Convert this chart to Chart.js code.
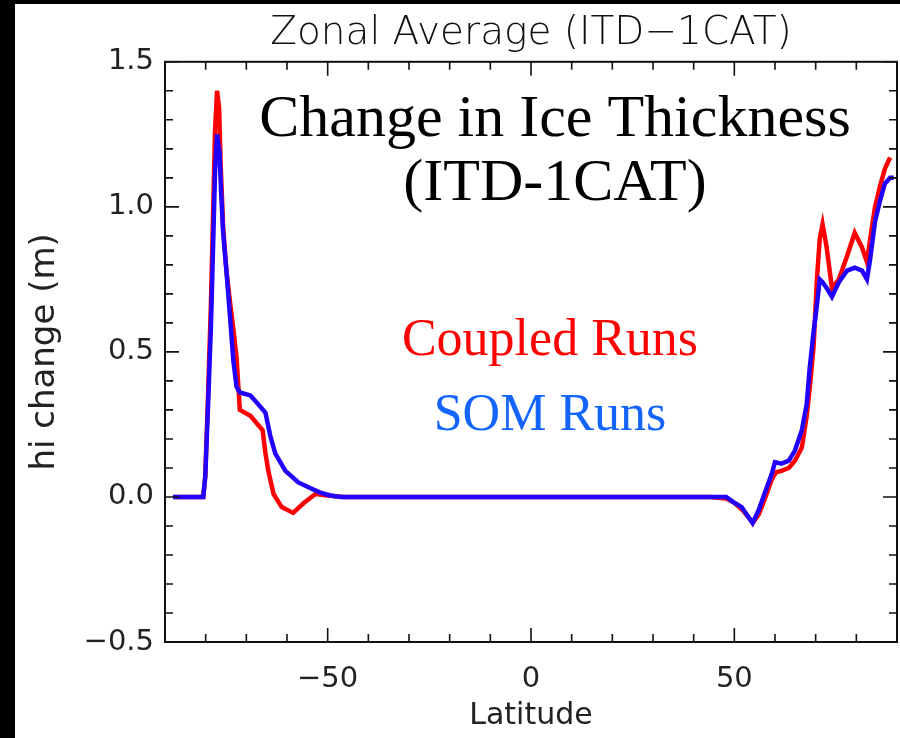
<!DOCTYPE html>
<html>
<head>
<meta charset="utf-8">
<script src="https://cdn.jsdelivr.net/npm/chart.js@4.4.1/dist/chart.umd.min.js"></script>
<style>
  html, body { margin: 0; padding: 0; background: #000; }
  #wrap { position: absolute; left: 15px; top: 4px; width: 885px; height: 734px; background: #fff; }
</style>
</head>
<body>
<div id="wrap"><canvas id="zonal"></canvas></div>
<script>
/*  Data  */
const coupledLat = [-88, -80.6, -80.1, -79.4, -78.7, -78.2, -77.7, -77.2, -76.7, -76.3, -75.7, -74.9, -74.0,
  -73.2, -72.4, -71.6, -69.0, -66.0, -65.3, -64.6, -63.3, -61.3, -58.5, -55.8, -53.0, -50.0, -46.0,
  44, 48, 50, 52, 53.5, 54.5, 56, 57.4, 59.2, 60.2, 61.6, 63.4, 64.9, 66.6, 67.8, 68.5, 69.5, 70.3,
  71.0, 71.7, 72.7, 74.0, 75.7, 77.7, 79.6, 81.4, 82.6, 83.3, 84.6, 85.8, 87.0, 88.3];
const coupledHi = [0, 0, 0.07, 0.36, 0.67, 0.96, 1.26, 1.40, 1.34, 1.14, 0.93, 0.78, 0.67,
  0.58, 0.48, 0.30, 0.28, 0.23, 0.15, 0.09, 0.01, -0.035, -0.055, -0.02, 0.01, 0.005, 0,
  0, -0.005, -0.02, -0.045, -0.07, -0.09, -0.06, -0.01, 0.06, 0.085, 0.09, 0.10, 0.125, 0.17, 0.28, 0.37, 0.52, 0.75,
  0.89, 0.94, 0.86, 0.72, 0.75, 0.83, 0.91, 0.86, 0.81, 0.88, 1.00, 1.07, 1.13, 1.17];

const somLat = [-88, -80.6, -80.1, -79.4, -78.7, -78.2, -77.7, -77.2, -76.6, -76.2, -75.7, -74.9, -74.0,
  -73.2, -72.4, -71.6, -69.0, -67.1, -65.3, -64.1, -62.9, -60.4, -57.2, -54.2, -51.8, -49.3, -46.8,
  44, 48, 50, 51.8, 53.5, 54.5, 56, 57.4, 59.2, 60.0, 61.6, 63.4, 64.9, 66.6, 67.8, 68.5, 69.5, 70.3,
  71.0, 71.7, 72.7, 74.0, 75.7, 77.7, 79.6, 81.4, 82.6, 83.3, 84.6, 85.8, 87.0, 88.3, 89.2];
const somHi = [0, 0, 0.07, 0.32, 0.59, 0.85, 1.12, 1.25, 1.19, 1.05, 0.91, 0.78, 0.62,
  0.47, 0.38, 0.36, 0.35, 0.32, 0.29, 0.21, 0.15, 0.09, 0.05, 0.03, 0.015, 0.005, 0,
  0, 0, -0.02, -0.035, -0.07, -0.09, -0.045, 0.01, 0.08, 0.12, 0.115, 0.125, 0.16, 0.23, 0.32, 0.44, 0.57, 0.66,
  0.75, 0.74, 0.72, 0.69, 0.74, 0.78, 0.79, 0.78, 0.75, 0.81, 0.95, 1.02, 1.08, 1.10, 1.10];

const xRange = [-90, 90];
const yRange = [-0.5, 1.5];

const idlFont = "'DejaVu Sans', sans-serif";
const serifFont = "'Liberation Serif', 'Times New Roman', serif";

function toPoints(lats, vals) {
    return lats.map((lat, i) => ({ x: lat, y: vals[i] }));
}

function isMajor(v, step) {
    return Math.abs(v / step - Math.round(v / step)) < 1e-6;
}

/* box + inward IDL-style ticks, plus the pasted-on labels */
const idlFrame = {
    id: 'idlFrame',
    afterDraw(chart) {
        const ctx = chart.ctx;
        const a = chart.chartArea;
        const xs = chart.scales.x;
        const ys = chart.scales.y;
        ctx.save();
        ctx.strokeStyle = '#111';
        ctx.lineWidth = 2;
        ctx.strokeRect(a.left, a.top, a.right - a.left, a.bottom - a.top);
        ctx.lineWidth = 1.6;
        ctx.beginPath();
        xs.ticks.forEach(t => {
            const px = xs.getPixelForValue(t.value);
            const len = isMajor(t.value, 50) ? 14 : 8;
            ctx.moveTo(px, a.bottom); ctx.lineTo(px, a.bottom - len);
            ctx.moveTo(px, a.top); ctx.lineTo(px, a.top + len);
        });
        ys.ticks.forEach(t => {
            const py = ys.getPixelForValue(t.value);
            const len = isMajor(t.value, 0.5) ? 14 : 8;
            ctx.moveTo(a.left, py); ctx.lineTo(a.left + len, py);
            ctx.moveTo(a.right, py); ctx.lineTo(a.right - len, py);
        });
        ctx.stroke();

        ctx.textAlign = 'center';
        ctx.textBaseline = 'alphabetic';
        ctx.fillStyle = '#000';
        ctx.font = '60px ' + serifFont;
        ctx.fillText('Change in Ice Thickness', 540, 132);
        ctx.fillText('(ITD-1CAT)', 540, 196);
        ctx.font = '52px ' + serifFont;
        ctx.fillStyle = '#ff0000';
        ctx.fillText('Coupled Runs', 535, 351);
        ctx.fillStyle = '#1464ff';
        ctx.fillText('SOM Runs', 535, 426);
        ctx.restore();
    }
};

new Chart(document.getElementById('zonal'), {
    type: 'line',
    data: {
        datasets: [
            {
                label: 'Coupled Runs',
                data: toPoints(coupledLat, coupledHi),
                borderColor: '#ff0000',
                borderWidth: 4.5,
                pointRadius: 0,
                tension: 0,
                order: 1
            },
            {
                label: 'SOM Runs',
                data: toPoints(somLat, somHi),
                borderColor: '#2200ff',
                borderWidth: 4.5,
                pointRadius: 0,
                tension: 0,
                order: 0
            }
        ]
    },
    options: {
        responsive: true,
        maintainAspectRatio: false,
        animation: false,
        layout: { padding: { right: 3 } },
        plugins: {
            legend: { display: false },
            tooltip: { enabled: false },
            title: {
                display: true,
                fullSize: false,
                text: 'Zonal Average (ITD\u22121CAT)',
                color: '#111',
                font: { family: idlFont, size: 39, weight: 200, lineHeight: 1.2 },
                padding: { top: 6, bottom: 5 }
            }
        },
        scales: {
            x: {
                type: 'linear',
                min: xRange[0],
                max: xRange[1],
                grid: { display: false, drawTicks: false },
                border: { display: false },
                ticks: {
                    stepSize: 10,
                    autoSkip: false,
                    maxRotation: 0,
                    padding: 20,
                    color: '#222',
                    font: { family: idlFont, size: 29 },
                    callback: v => isMajor(v, 50) && Math.abs(v) < 90 ? String(v).replace('-', '\u2212') : ''
                },
                title: {
                    display: true,
                    text: 'Latitude',
                    color: '#222',
                    font: { family: idlFont, size: 30 },
                    padding: { top: 0, bottom: 4 }
                },
                afterFit: s => {
                    s.height = 96;
                    s.paddingLeft = 0;
                    s.paddingRight = 0;
                }
            },
            y: {
                min: yRange[0],
                max: yRange[1],
                grid: { display: false, drawTicks: false },
                border: { display: false },
                ticks: {
                    stepSize: 0.1,
                    autoSkip: false,
                    padding: 11,
                    color: '#222',
                    font: { family: idlFont, size: 29 },
                    callback: v => isMajor(v, 0.5) ? v.toFixed(1).replace('-', '\u2212') : ''
                },
                title: {
                    display: true,
                    text: 'hi change (m)',
                    color: '#222',
                    font: { family: idlFont, size: 34 },
                    padding: { top: 10, bottom: 0 }
                },
                afterFit: s => { s.width = 150; }
            }
        }
    },
    plugins: [idlFrame]
});
</script>
</body>
</html>
